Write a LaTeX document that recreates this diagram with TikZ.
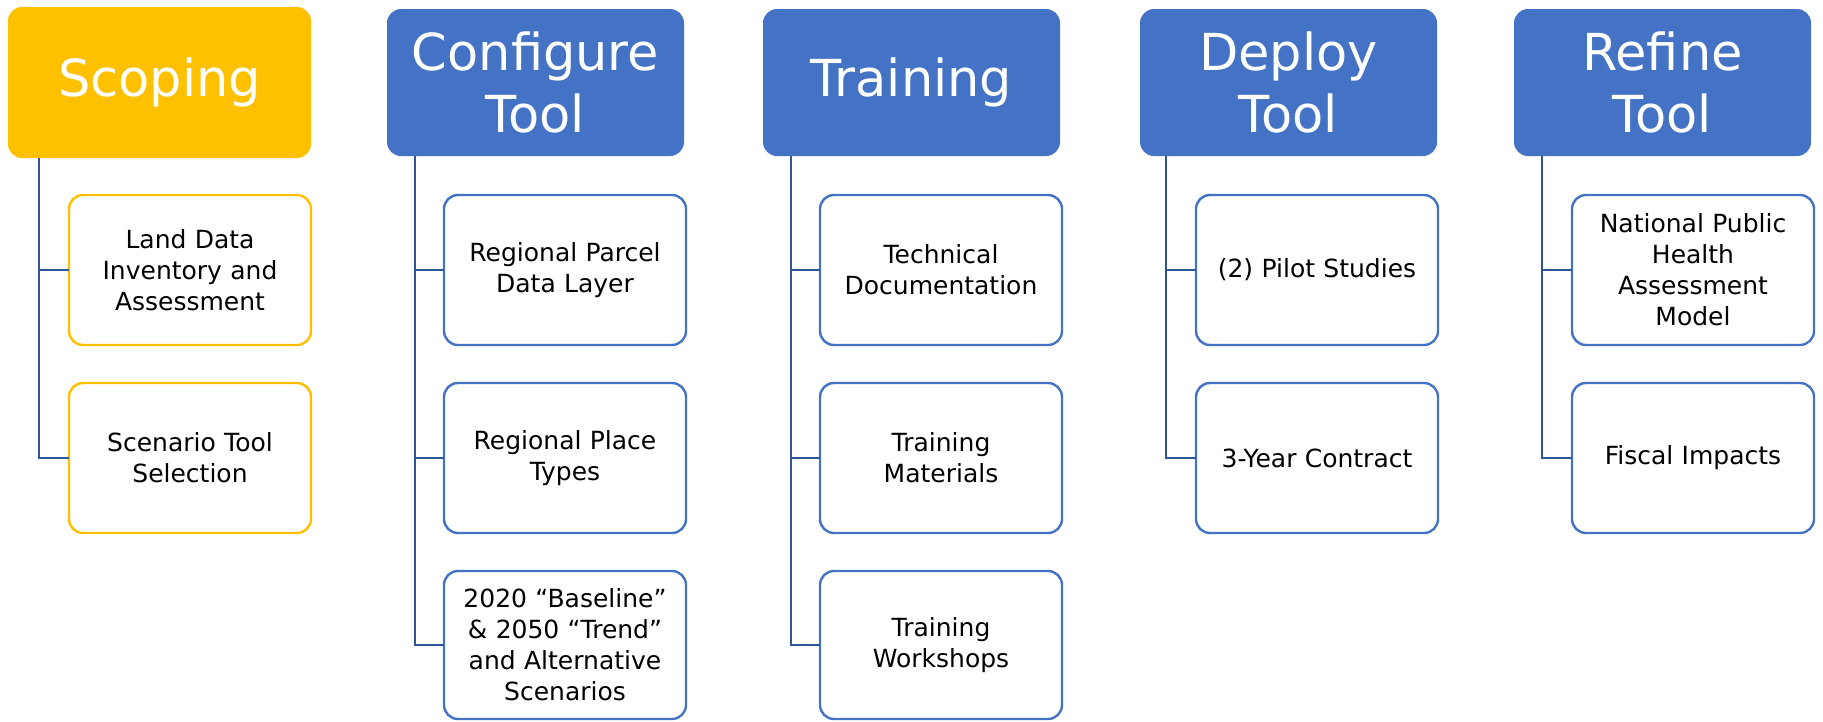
\documentclass[tikz,border=0pt]{standalone}
\usepackage{fontspec}
\setmainfont{DejaVu Sans}
\definecolor{hblue}{RGB}{68,114,196}
\definecolor{hgold}{RGB}{255,192,0}
\definecolor{lblue}{RGB}{47,85,151}
\tikzset{
  head/.style={fill=hblue, text=white, rounded corners=14pt, minimum width=297pt, minimum height=147pt,
    anchor=north west, align=center, inner sep=0pt, outer sep=0pt, font=\fontsize{51}{62}\selectfont},
  kid/.style={draw=hblue, line width=2.4pt, fill=white, rounded corners=14pt, minimum width=242pt, minimum height=150pt,
    anchor=north west, align=center, text width=232pt, inner sep=0pt, outer sep=0pt, font=\fontsize{25}{31}\selectfont},
  conn/.style={draw=lblue, line width=2.4pt}
}
\begin{document}
\begin{tikzpicture}[x=1pt,y=-1pt]
\useasboundingbox (0,0) rectangle (1823,721);
% headers
\node[head, fill=hgold, minimum width=303pt, minimum height=151pt] (h1) at (8,7) {Scoping};
\node[head] (h2) at (387,9) {Configure\\Tool};
\node[head] (h3) at (763,9) {Training};
\node[head] (h4) at (1140,9) {Deploy\\Tool};
\node[head] (h5) at (1514,9) {Refine\\Tool};
% children
\node[kid, draw=hgold] (c11) at (69,195) {Land Data\\Inventory and\\Assessment};
\node[kid, draw=hgold] (c12) at (69,383) {Scenario Tool\\Selection};
\node[kid] (c21) at (444,195) {Regional Parcel\\Data Layer};
\node[kid] (c22) at (444,383) {Regional Place\\Types};
\node[kid, minimum height=148pt] (c23) at (444,571) {2020 “Baseline”\\\& 2050 “Trend”\\and Alternative\\Scenarios};
\node[kid] (c31) at (820,195) {Technical\\Documentation};
\node[kid] (c32) at (820,383) {Training\\Materials};
\node[kid, minimum height=148pt] (c33) at (820,571) {Training\\Workshops};
\node[kid] (c41) at (1196,195) {(2) Pilot Studies};
\node[kid] (c42) at (1196,383) {3-Year Contract};
\node[kid] (c51) at (1572,195) {National Public\\Health\\Assessment\\Model};
\node[kid] (c52) at (1572,383) {Fiscal Impacts};
% trunks
\coordinate (t1) at ([xshift=31pt]h1.south west);
\coordinate (t2) at ([xshift=28pt]h2.south west);
\coordinate (t3) at ([xshift=28pt]h3.south west);
\coordinate (t4) at ([xshift=26pt]h4.south west);
\coordinate (t5) at ([xshift=28pt]h5.south west);
\draw[conn] (t1) |- (c12.west);
\draw[conn] (t1 |- c11.west) -- (c11.west);
\draw[conn] (t2) |- (c23.west);
\draw[conn] (t2 |- c21.west) -- (c21.west);
\draw[conn] (t2 |- c22.west) -- (c22.west);
\draw[conn] (t3) |- (c33.west);
\draw[conn] (t3 |- c31.west) -- (c31.west);
\draw[conn] (t3 |- c32.west) -- (c32.west);
\draw[conn] (t4) |- (c42.west);
\draw[conn] (t4 |- c41.west) -- (c41.west);
\draw[conn] (t5) |- (c52.west);
\draw[conn] (t5 |- c51.west) -- (c51.west);
\end{tikzpicture}
\end{document}
